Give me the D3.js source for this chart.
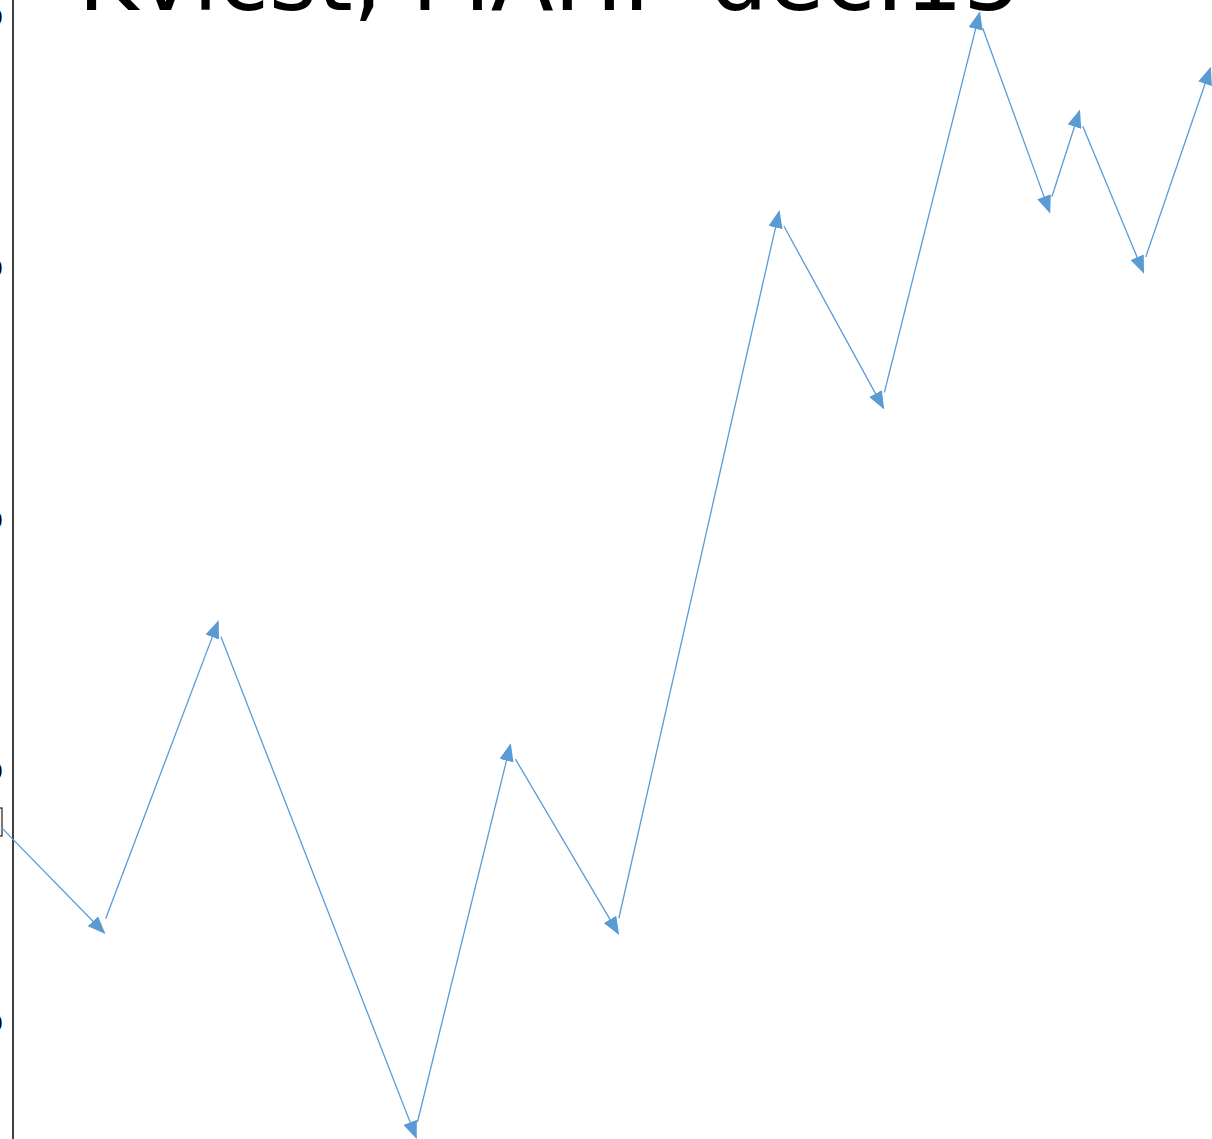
<!DOCTYPE html>
<html>
<head>
<meta charset="utf-8">
<script src="https://cdn.jsdelivr.net/npm/d3@7"></script>
<style>
  body { margin: 0; background: #fff; overflow: hidden; }
  svg { display: block; }
</style>
</head>
<body>
<div id="chart"></div>
<script>
// values
var titleText = "Kvicst, MAHP-dec.15";
var xValues = [-1.8, 7.2, 16.8, 33.3, 41.2, 50.1, 63.6, 72.2, 80.3, 86.1, 88.6, 93.9, 99.5];
var yValues = [18.1, 13.7, 25.8, 5.6, 20.9, 13.7, 42.1, 34.6, 50.0, 42.4, 46.1, 40.0, 47.8];
var yTicks = [10, 20, 30, 40, 50];

var width = 1212, height = 1139;
var margin = {left: 13};

var svg = d3.select("#chart").append("svg")
  .attr("width", width)
  .attr("height", height);

// scales
var xScale = d3.scaleLinear()
  .domain([0, 100])
  .range([margin.left + 2, 1215]);

var yScale = d3.scaleLinear()
  .domain([10, 50])
  .range([1023, 17]);

// y axis, labels fall off the left edge
var leftAxis = d3.axisLeft(yScale)
  .tickValues(yTicks)
  .tickSize(0)
  .tickPadding(10);

var yAxis = svg.append("g")
  .attr("transform", `translate(${margin.left}, 0)`)
  .call(leftAxis);

yAxis.select(".domain").remove();
yAxis.selectAll("text")
  .style("font", "22px 'DejaVu Sans'")
  .attr("fill", "#000");

svg.append("line")
  .attr("x1", margin.left).attr("x2", margin.left)
  .attr("y1", -5).attr("y2", height + 5)
  .attr("stroke", "#000")
  .attr("stroke-width", 1.5);

// legend box cut at the left edge
svg.append("rect")
  .attr("x", -40).attr("y", 808)
  .attr("width", 42).attr("height", 28)
  .attr("fill", "#fffbe6")
  .attr("stroke", "#222")
  .attr("stroke-width", 1.2);

// arrow marker
svg.append("defs").append("marker")
  .attr("id", "arrow")
  .attr("viewBox", "0 0 10 8")
  .attr("refX", 9)
  .attr("refY", 4)
  .attr("markerUnits", "userSpaceOnUse")
  .attr("markerWidth", 18)
  .attr("markerHeight", 14.4)
  .attr("orient", "auto")
  .append("path")
  .attr("d", "M0,0 L10,4 L0,8 Z")
  .attr("fill", "#5b9bd5");

var data = xValues.map((x, i) => ({x: x, y: yValues[i]}));
var segments = d3.pairs(data);

// each step is an arrow from one point to the next: gap at the start, tip a bit past the end
svg.append("g").selectAll("line")
  .data(segments)
  .enter()
  .append("line")
  .each(function(d) {
    var x1 = xScale(d[0].x), y1 = yScale(d[0].y);
    var x2 = xScale(d[1].x), y2 = yScale(d[1].y);
    var len = Math.hypot(x2 - x1, y2 - y1);
    var ux = (x2 - x1) / len, uy = (y2 - y1) / len;
    var shrinkA = 12, shrinkB = -4;
    d3.select(this)
      .attr("x1", x1 + ux * shrinkA)
      .attr("y1", y1 + uy * shrinkA)
      .attr("x2", x2 - ux * shrinkB)
      .attr("y2", y2 - uy * shrinkB);
  })
  .attr("stroke", "#5b9bd5")
  .attr("stroke-width", 1.3)
  .attr("marker-end", "url(#arrow)");

// title, mostly above the top edge
svg.append("text")
  .attr("x", 78)
  .attr("y", 10)
  .style("font", "92px 'DejaVu Sans'")
  .attr("fill", "#000")
  .text(titleText);
</script>
</body>
</html>
